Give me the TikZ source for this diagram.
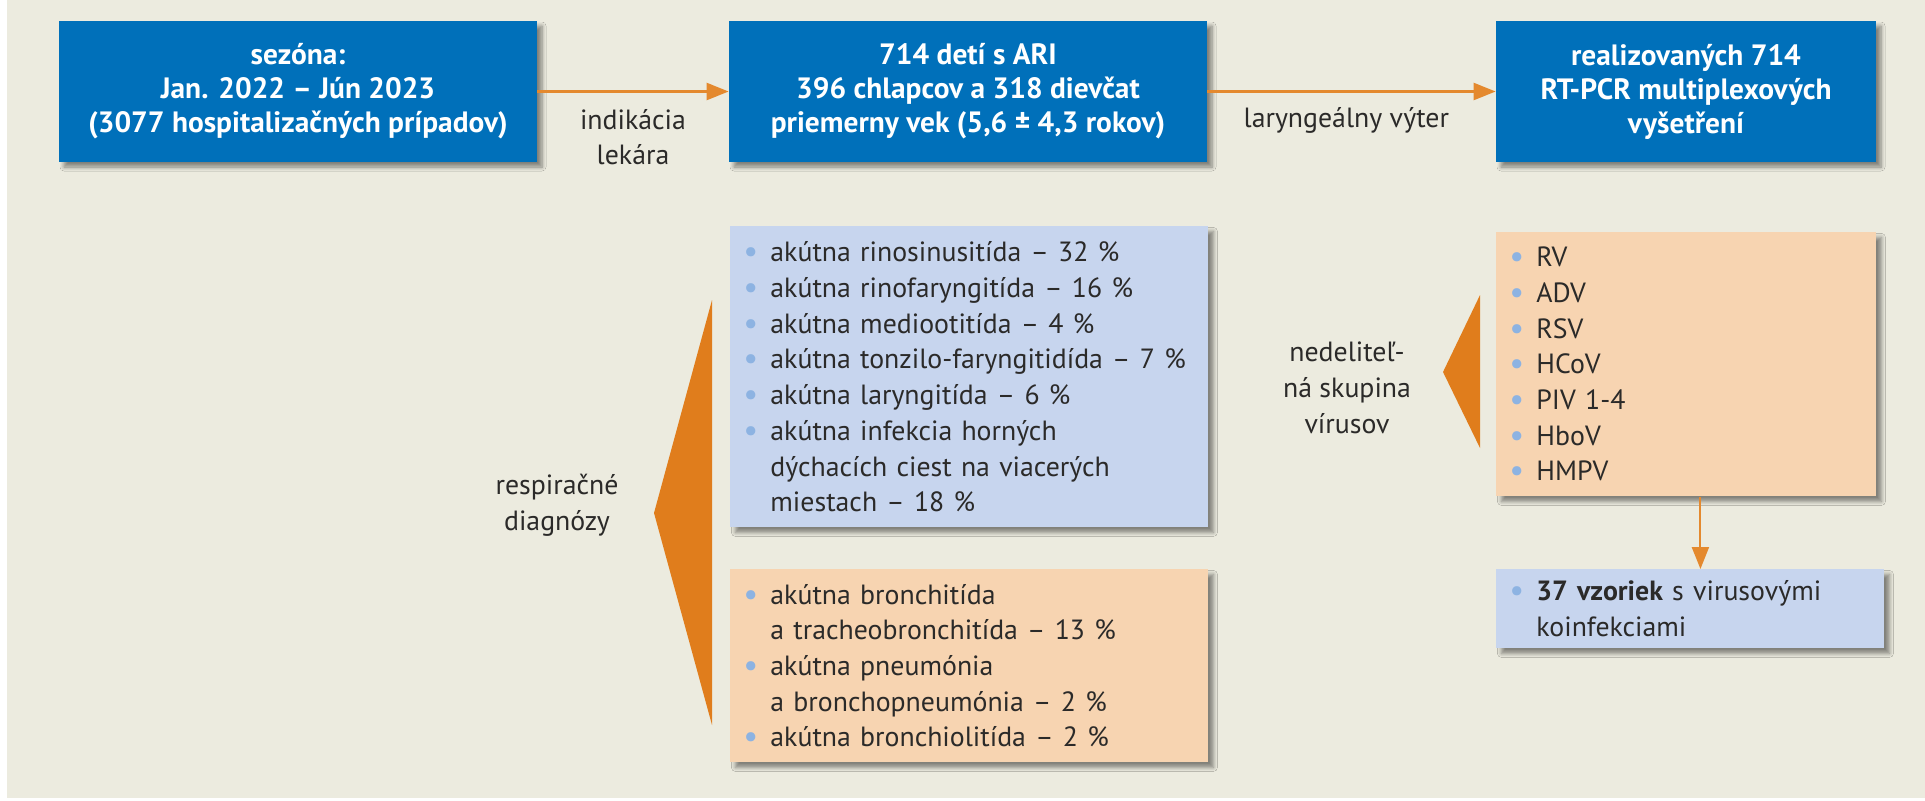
\documentclass[tikz,border=0pt]{standalone}
\usepackage{fontspec}
\setmainfont{PT Sans}
\usepackage{tikz}
\usetikzlibrary{positioning,arrows.meta,shadows.blur}
\definecolor{boxblue}{HTML}{0070BA}
\definecolor{listblue}{HTML}{C7D5EE}
\definecolor{peach}{HTML}{F7D4B1}
\definecolor{wedge}{HTML}{E07D1C}
\definecolor{arrorange}{HTML}{E4892E}
\definecolor{dotblue}{HTML}{8DB3E2}
\definecolor{paper}{HTML}{ECEBDF}
\definecolor{ink}{HTML}{2B2A29}
\setlength{\parindent}{0pt}
\newcommand{\li}[1]{\noindent\hangindent=13.5pt\hangafter=1\makebox[13.5pt][l]{\textcolor{dotblue}{\raisebox{-0.5pt}{\fontsize{16.5}{0}\selectfont\textbullet}}}#1\par}
\tikzset{boxshadow/.style={blur shadow={shadow xshift=2.5pt,shadow yshift=-2.5pt,shadow blur steps=6,shadow opacity=45}}}

\begin{document}
\begin{tikzpicture}[x = 0.5pt, y = -0.5pt,
    every node/.style = { text = ink, font = \fontsize{13.9}{17.85}\selectfont },
    topbox/.style = { fill = boxblue, text = white, align = center, inner sep = 0pt,
      minimum height = 70.5pt, font = \bfseries\fontsize{14.7}{17}\selectfont, boxshadow },
    listbox/.style = { align = left, inner xsep = 6.5pt, inner ysep = 0pt, anchor = north west, boxshadow },
    arr/.style = { draw = arrorange, line width = 1.2pt, -{Triangle[length = 11pt, width = 8.5pt]} },
    lbl/.style = { align = center, inner sep = 0pt }
  ]
  \fill[white] (0,0) rectangle (1925,800);
  \fill[paper] (7,0) rectangle (1925,798);

  \node[topbox, minimum width = 239pt] (season) at (298,91.5)
    { sezóna: \\ Jan. 2022 – Jún 2023 \\ (3077 hospitalizačných prípadov) };
  \node[topbox, minimum width = 239pt] (kids) at (968,91.5)
    { 714 detí s ARI \\ 396 chlapcov a 318 dievčat \\ priemerny vek (5,6 ± 4,3 rokov) };
  \node[topbox, minimum width = 190pt] (pcr) at (1686,91.5)
    { realizovaných 714 \\ RT-PCR multiplexových \\ vyšetření };

  \draw[arr] (season) -- (kids);
  \draw[arr] (kids) -- (pcr);
  \node[lbl] (indic) at (633,137) { indikácia \\ lekára };
  \node[lbl] (swab) at (1350,120) { laryngeálny výter };

  \node[listbox, fill = listblue, text width = 226pt, minimum height = 150.5pt] (upper) at (730,226)
    { \li{akútna rinosinusitída – 32 \%}
      \li{akútna rinofaryngitída – 16 \%}
      \li{akútna mediootitída – 4 \%}
      \li{akútna tonzilo-faryngitidída – 7 \%}
      \li{akútna laryngitída – 6 \%}
      \li{akútna infekcia horných\newline dýchacích ciest na viacerých\newline miestach – 18 \%} };
  \node[listbox, fill = peach, text width = 226pt, minimum height = 96.5pt] (lower) at (730,569)
    { \li{akútna bronchitída\newline a tracheobronchitída – 13 \%}
      \li{akútna pneumónia\newline a bronchopneumónia – 2 \%}
      \li{akútna bronchiolitída – 2 \%} };

  \fill[wedge] (712,300) -- (654,513) -- (712,725) -- cycle;
  \node[lbl] (resp) at (557,505) { respiračné \\ diagnózy };

  \node[listbox, fill = peach, text width = 177pt, minimum height = 132pt] (virus) at (1496,232)
    { \li{RV} \li{ADV} \li{RSV} \li{HCoV} \li{PIV 1-4} \li{HboV} \li{HMPV} };
  \fill[wedge] (1480,295) -- (1443,372) -- (1480,448) -- cycle;
  \node[lbl] (group) at (1347,388) { nedeliteľ- \\ ná skupina \\ vírusov };

  \node[listbox, fill = listblue, text width = 181pt, minimum height = 39.5pt] (coinf) at (1496,569)
    { \li{\textbf{37 vzoriek} s virusovými\newline koinfekciami} };

  \draw[arr, line width = 1pt] ([xshift = 7pt]virus.south) -- ([xshift = 5pt]coinf.north);
\end{tikzpicture}
\end{document}
